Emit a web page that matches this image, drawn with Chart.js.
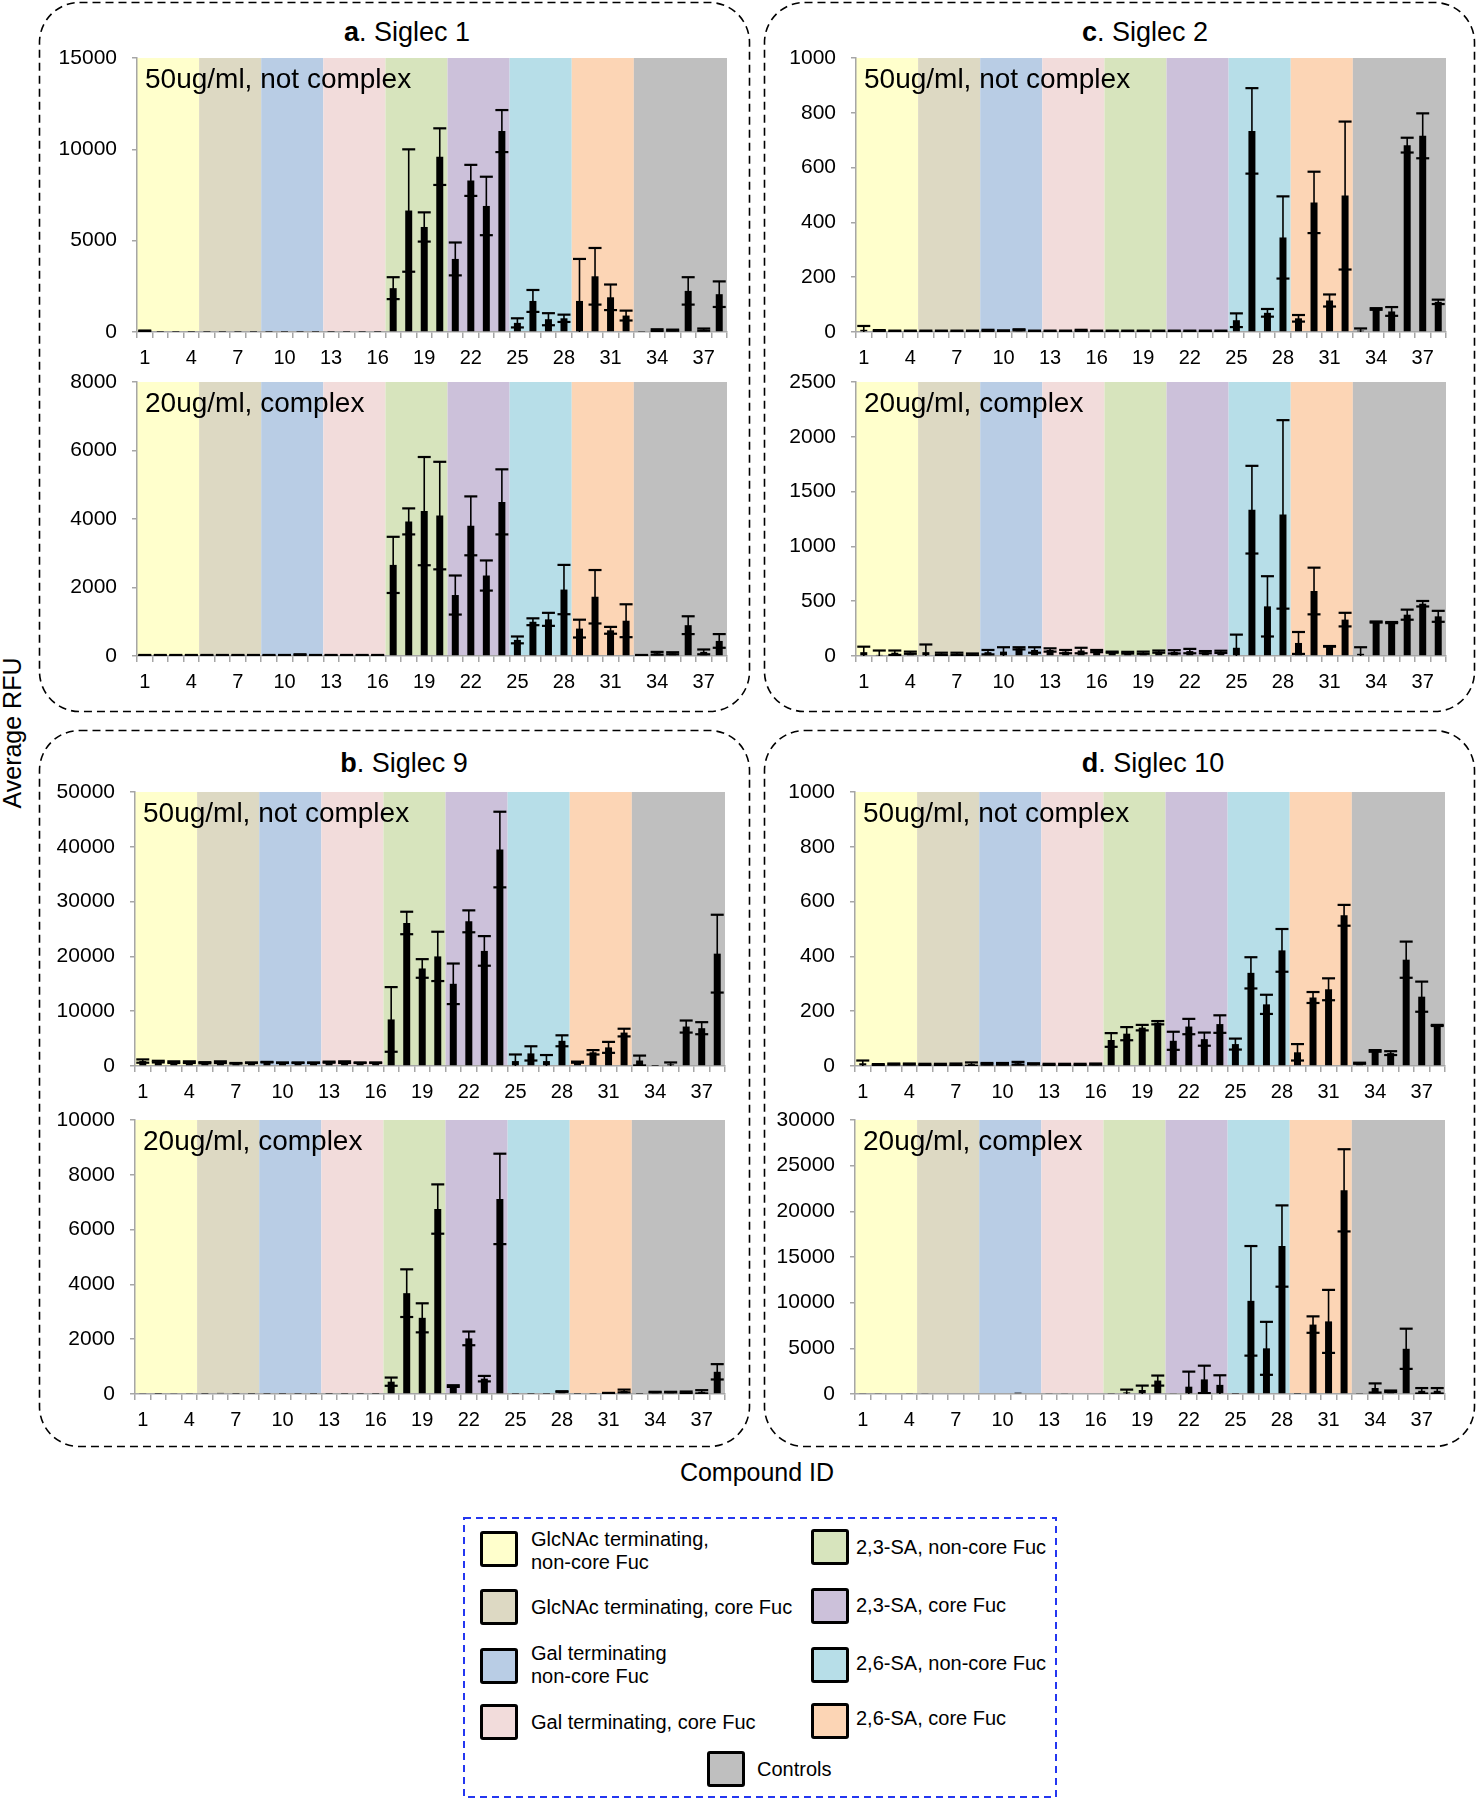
<!DOCTYPE html>
<html>
<head>
<meta charset="utf-8">
<script src="https://cdn.jsdelivr.net/npm/chart.js@4.4.1/dist/chart.umd.min.js"></script>
<style>
html,body{margin:0;padding:0;background:#fff;}
body{width:1477px;height:1800px;position:relative;overflow:hidden;font-family:"Liberation Sans",Arial,sans-serif;color:#000;}
.cw{position:absolute;}
.cw canvas{display:block;}
.title{position:absolute;font-size:27px;line-height:27px;white-space:nowrap;transform:translateX(-50%);}
.sub{position:absolute;font-size:28px;line-height:28px;white-space:nowrap;}
.axt{position:absolute;font-size:25px;line-height:26px;white-space:nowrap;}
.sw{position:absolute;box-sizing:border-box;border:3px solid #000;border-radius:3px;}
.lt{position:absolute;font-size:20px;line-height:23.4px;white-space:nowrap;}
</style>
</head>
<body>
<svg width="1477" height="1800" style="position:absolute;left:0;top:0;">
  <rect x="39.5" y="2.5" width="710" height="709" rx="40" fill="none" stroke="#000" stroke-width="1.6" stroke-dasharray="8 5"/>
  <rect x="764.5" y="2.5" width="710" height="709" rx="40" fill="none" stroke="#000" stroke-width="1.6" stroke-dasharray="8 5"/>
  <rect x="39.5" y="730.5" width="710" height="716" rx="40" fill="none" stroke="#000" stroke-width="1.6" stroke-dasharray="8 5"/>
  <rect x="764.5" y="730.5" width="710" height="716" rx="40" fill="none" stroke="#000" stroke-width="1.6" stroke-dasharray="8 5"/>
  <rect x="464" y="1518" width="592" height="279" fill="none" stroke="#2437f0" stroke-width="2" stroke-dasharray="7 5"/>
</svg>

<div class="title" style="left:407px;top:19px;"><b>a</b>. Siglec 1</div>
<div class="title" style="left:1145px;top:19px;"><b>c</b>. Siglec 2</div>
<div class="title" style="left:404px;top:750px;"><b>b</b>. Siglec 9</div>
<div class="title" style="left:1153px;top:750px;"><b>d</b>. Siglec 10</div>

<div class="axt" style="left:12px;top:733px;transform:translate(-50%,-50%) rotate(-90deg);">Average RFU</div>
<div class="axt" style="left:757px;top:1472px;transform:translate(-50%,-50%);">Compound ID</div>

<div id="legend"></div>

<script>
// ---------------- DATA ----------------
const categories = [1,2,3,4,5,6,7,8,9,10,11,12,13,14,15,16,17,18,19,20,21,22,23,24,25,26,27,28,29,30,31,32,33,34,35,36,37,38];
const xTickLabels = [1,4,7,10,13,16,19,22,25,28,31,34,37];

const groupNames = ["GlcNAc terminating, non-core Fuc","GlcNAc terminating, core Fuc","Gal terminating non-core Fuc","Gal terminating, core Fuc","2,3-SA, non-core Fuc","2,3-SA, core Fuc","2,6-SA, non-core Fuc","2,6-SA, core Fuc","Controls"];
const groupFirst = [1,5,9,13,17,21,25,29,33];
const groupLast  = [4,8,12,16,20,24,28,32,38];
const groupColors = ["#FFFFCC","#DDD9C3","#B9CDE5","#F2DCDB","#D7E4BD","#CCC1DA","#B7DEE8","#FCD5B5","#BFBFBF"];

// a. Siglec 1
const s1_50     = [60,10,10,10,10,10,10,10,10,10,10,10,10,10,10,10, 2400,6650,5750,9600, 4000,8300,6900,11000, 500,1700,700,750, 1700,3050,1900,900, 20,100,100,2250,130,2070];
const s1_50_err = [20,0,0,0,0,0,0,0,0,0,0,0,0,0,0,0, 600,3350,800,1550, 900,850,1600,1150, 250,600,330,200, 2300,1550,700,270, 0,50,30,750,60,700];
const s1_20     = [20,20,20,20,20,20,20,20,20,20,40,20,20,20,20,20, 2660,3930,4230,4100, 1780,3800,2350,4500, 470,1000,1070,1940, 800,1730,750,1030, 20,80,80,900,120,440];
const s1_20_err = [10,10,10,10,10,10,10,10,10,10,10,10,10,10,10,10, 820,380,1580,1570, 570,860,440,950, 100,100,190,720, 260,780,100,480, 10,40,30,260,70,200];
// c. Siglec 2
const s2_50     = [8,5,3,3,3,3,3,3,6,4,8,3,3,3,6,3, 3,3,3,3,3,3,3,3, 43,734,70,345, 50,473,115,498, 5,84,75,682,716,110];
const s2_50_err = [14,2,2,2,2,2,2,2,2,2,2,2,2,2,2,2, 2,2,2,2,2,2,2,2, 25,156,14,150, 12,112,22,270, 8,3,16,27,82,8];
const s2_20     = [35,10,30,30,35,20,20,15, 35,40,70,55, 55,40,50,45, 35,30,30,40, 38,45,35,38, 75,1335,453,1292, 119,593,88,332, 20,310,305,377,477,362];
const s2_20_err = [50,40,20,10,70,10,10,8, 20,40,10,25, 15,15,25,10, 5,8,10,10, 15,20,10,10, 120,400,275,860, 100,213,3,62, 60,5,5,46,25,50];
// b. Siglec 9
const s9_50     = [900,800,700,700,600,700,500,600, 700,600,600,600, 700,700,600,600, 8500,26100,17800,20000, 15000,26400,21000,39500, 900,2300,900,4600, 700,2500,3400,6100, 1000,20,300,7200,6900,20500];
const s9_50_err = [300,150,150,150,100,150,50,50, 50,50,50,50, 100,150,50,50, 5900,2050,1700,4500, 3700,2000,2700,6900, 1200,1300,1100,1000, 100,400,1000,700, 900,0,350,1100,1100,7100];
const s9_20     = [20,10,20,20,10,40,10,10, 10,10,10,10, 10,10,10,10, 450,3680,2780,6750, 290,2030,560,7120, 10,10,10,90, 10,10,30,110, 10,70,70,60,80,810];
const s9_20_err = [0,0,0,0,0,0,0,0, 0,0,0,0, 0,0,0,0, 150,870,530,900, 30,250,100,1650, 0,0,0,10, 0,0,10,50, 0,10,10,30,60,280];
// d. Siglec 10
const s10_50     = [10,5,7,7,6,6,6,7, 8,8,10,8, 6,6,6,7, 95,118,140,158, 92,144,98,153, 80,340,225,422, 50,250,280,550, 10,55,47,388,253,148];
const s10_50_err = [10,2,2,2,2,2,3,6, 3,3,5,2, 2,2,2,2, 25,24,10,6, 33,28,24,32, 20,57,35,78, 30,20,40,38, 2,3,7,66,55,2];
const s10_20     = [100,100,80,100,100,80,80,80, 80,80,150,80, 100,100,80,80, 50,180,440,1470, 100,800,1600,1000, 30,10200,5000,16200, 30,7600,7950,22300, 50,660,300,4950,350,350];
const s10_20_err = [0,0,0,0,0,0,0,0, 0,0,0,0, 0,0,0,0, 0,300,480,550, 0,1650,1500,1050, 0,6000,2900,4450, 0,900,3450,4500, 0,500,80,2200,300,300];

const subtitleTop = "50ug/ml, not complex";
const subtitleBottom = "20ug/ml, complex";

// ---------------- LAYOUT ----------------
const FONT = "'Liberation Sans', Arial, sans-serif";
const PLOT_W = 590, PLOT_H = 274;
const YW = 80, PT = 16, PR = 12, XH = 44;
const CAP = 13;

const panels = [
  {L:137, T:58,   v:s1_50,  e:s1_50_err,  max:15000, step:5000,  sub:subtitleTop},
  {L:137, T:382,  v:s1_20,  e:s1_20_err,  max:8000,  step:2000,  sub:subtitleBottom},
  {L:856, T:58,   v:s2_50,  e:s2_50_err,  max:1000,  step:200,   sub:subtitleTop},
  {L:856, T:382,  v:s2_20,  e:s2_20_err,  max:2500,  step:500,   sub:subtitleBottom},
  {L:135, T:792,  v:s9_50,  e:s9_50_err,  max:50000, step:10000, sub:subtitleTop},
  {L:135, T:1120, v:s9_20,  e:s9_20_err,  max:10000, step:2000,  sub:subtitleBottom},
  {L:855, T:792,  v:s10_50, e:s10_50_err, max:1000,  step:200,   sub:subtitleTop},
  {L:855, T:1120, v:s10_20, e:s10_20_err, max:30000, step:5000,  sub:subtitleBottom}
];

const bandPlugin = {
  id:'bands',
  beforeDraw(chart){
    const {ctx, chartArea:a, scales:{x}} = chart;
    const cw = x.getPixelForTick(1) - x.getPixelForTick(0);
    ctx.save();
    groupFirst.forEach((f,g)=>{
      const x0 = x.getPixelForTick(categories.indexOf(f)) - cw/2;
      const x1 = x.getPixelForTick(categories.indexOf(groupLast[g])) + cw/2;
      ctx.fillStyle = groupColors[g];
      ctx.fillRect(x0, a.top, x1-x0, a.bottom-a.top);
    });
    ctx.restore();
  }
};

const errPlugin = {
  id:'errbars',
  afterDatasetsDraw(chart){
    const {ctx, chartArea:a, scales:{y}} = chart;
    const ds = chart.data.datasets[0];
    const meta = chart.getDatasetMeta(0);
    ctx.save();
    ctx.beginPath();
    ctx.rect(a.left, a.top-10, a.right-a.left, a.bottom-a.top+10);
    ctx.clip();
    ctx.strokeStyle = '#000';
    meta.data.forEach((bar,i)=>{
      const v = ds.data[i], e = ds.errors[i];
      if (!e) return;
      const xp = bar.x;
      const yt = y.getPixelForValue(v+e);
      const lo = v-e;
      const yb = y.getPixelForValue(Math.max(lo,0));
      ctx.lineWidth = 1.6;
      ctx.beginPath(); ctx.moveTo(xp, yt); ctx.lineTo(xp, yb); ctx.stroke();
      ctx.lineWidth = 2.2;
      ctx.beginPath(); ctx.moveTo(xp-CAP/2, yt); ctx.lineTo(xp+CAP/2, yt); ctx.stroke();
      if (lo > 0) {
        ctx.beginPath(); ctx.moveTo(xp-CAP/2, yb); ctx.lineTo(xp+CAP/2, yb); ctx.stroke();
      }
    });
    ctx.restore();
  }
};

function makeChart(p){
  const W = YW + PLOT_W + PR, H = PT + PLOT_H + XH;
  const div = document.createElement('div');
  div.className = 'cw';
  div.style.left = (p.L - YW) + 'px';
  div.style.top = (p.T - PT) + 'px';
  div.style.width = W + 'px';
  div.style.height = H + 'px';
  const cv = document.createElement('canvas');
  cv.width = W; cv.height = H;
  cv.style.width = W + 'px'; cv.style.height = H + 'px';
  div.appendChild(cv);
  document.body.appendChild(div);

  const sub = document.createElement('div');
  sub.className = 'sub';
  sub.textContent = p.sub;
  sub.style.left = (p.L + 8) + 'px';
  sub.style.top = (p.T + 7) + 'px';
  document.body.appendChild(sub);

  const chart = new Chart(cv, {
    type:'bar',
    data:{
      labels: categories.map(String),
      datasets:[{
        data: p.v,
        errors: p.e,
        backgroundColor:'#000',
        borderWidth:0,
        barPercentage:0.45,
        categoryPercentage:1.0
      }]
    },
    options:{
      responsive:false,
      animation:false,
      devicePixelRatio:1,
      layout:{padding:{top:PT, right:PR, left:0, bottom:0}},
      plugins:{legend:{display:false}, tooltip:{enabled:false}, title:{display:false}},
      scales:{
        x:{
          offset:true,
          grid:{offset:true, drawOnChartArea:false, drawTicks:true, tickLength:6, color:'#a6a6a6', lineWidth:1.5},
          border:{display:true, color:'#a6a6a6', width:1.5},
          ticks:{autoSkip:false, maxRotation:0, minRotation:0, padding:8, color:'#000',
                 font:{family:FONT, size:20},
                 callback:(val,i)=> xTickLabels.includes(categories[i]) ? String(categories[i]) : ''},
          afterFit:(s)=>{ s.height = XH; s.paddingTop = 0; s.paddingBottom = 0; s.paddingLeft = 0; s.paddingRight = 0; }
        },
        y:{
          min:0, max:p.max,
          grid:{drawOnChartArea:false, drawTicks:true, tickLength:5, color:'#a6a6a6', lineWidth:1.5},
          border:{display:true, color:'#a6a6a6', width:1.5},
          ticks:{stepSize:p.step, padding:15, color:'#000', font:{family:FONT, size:21},
                 callback:(v)=>String(v)},
          afterFit:(s)=>{ s.width = YW; s.paddingTop = 0; s.paddingBottom = 0; s.paddingLeft = 0; s.paddingRight = 0; }
        }
      }
    },
    plugins:[bandPlugin, errPlugin]
  });

  // make sure the plot area lands exactly at (L, T) with size PLOT_W x PLOT_H
  for (let k = 0; k < 3; k++) {
    const a = chart.chartArea;
    const dTop = a.top - PT;
    const dH = (a.bottom - a.top) - PLOT_H;
    const dW = (a.right - a.left) - PLOT_W;
    const dL = a.left - YW;
    if (Math.abs(dTop) < 0.5 && Math.abs(dH) < 0.5 && Math.abs(dW) < 0.5 && Math.abs(dL) < 0.5) break;
    const newW = Math.round(cv.width - dW);
    const newH = Math.round(cv.height - dH);
    div.style.left = Math.round(p.L - a.left) + 'px';
    div.style.top = Math.round(p.T - a.top) + 'px';
    div.style.width = newW + 'px'; div.style.height = newH + 'px';
    cv.style.width = newW + 'px'; cv.style.height = newH + 'px';
    chart.resize(newW, newH);
    // position after resize
    const b = chart.chartArea;
    div.style.left = Math.round(p.L - b.left) + 'px';
    div.style.top = Math.round(p.T - b.top) + 'px';
  }
}

panels.forEach(makeChart);

// ---------------- LEGEND ----------------
const legendLabels = ["GlcNAc terminating,<br>non-core Fuc","GlcNAc terminating, core Fuc","Gal terminating<br>non-core Fuc","Gal terminating, core Fuc","2,3-SA, non-core Fuc","2,3-SA, core Fuc","2,6-SA, non-core Fuc","2,6-SA, core Fuc","Controls"];
const legendPos = [
  {sx:480, sy:1531, tx:531, ty:1528},
  {sx:480, sy:1589, tx:531, ty:1596},
  {sx:480, sy:1648, tx:531, ty:1642},
  {sx:480, sy:1704, tx:531, ty:1711},
  {sx:811, sy:1529, tx:856, ty:1536},
  {sx:811, sy:1588, tx:856, ty:1594},
  {sx:811, sy:1647, tx:856, ty:1652},
  {sx:811, sy:1703, tx:856, ty:1707},
  {sx:707, sy:1751, tx:757, ty:1758}
];
const lg = document.getElementById('legend');
legendPos.forEach((q,i)=>{
  const s = document.createElement('div');
  s.className = 'sw';
  s.style.left = q.sx+'px'; s.style.top = q.sy+'px';
  s.style.width = '38px'; s.style.height = '36px';
  s.style.background = groupColors[i];
  lg.appendChild(s);
  const t = document.createElement('div');
  t.className = 'lt';
  t.style.left = q.tx+'px'; t.style.top = q.ty+'px';
  t.innerHTML = legendLabels[i];
  lg.appendChild(t);
});
</script>
</body>
</html>
